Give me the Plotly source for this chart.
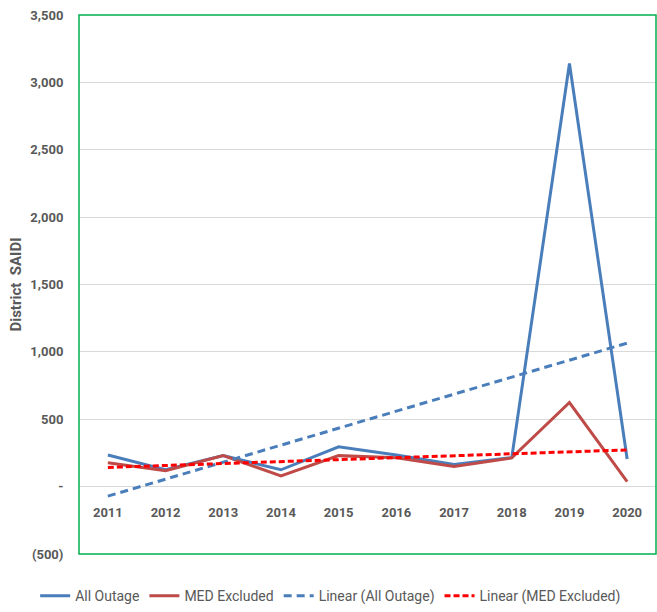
import numpy as np
import plotly.graph_objects as go

years = [2011, 2012, 2013, 2014, 2015, 2016, 2017, 2018, 2019, 2020]
all_outage = [235, 125, 230, 125, 295, 235, 165, 215, 3140, 205]
med_excluded = [178, 118, 230, 80, 230, 215, 150, 213, 624, 37]
y_tickvals = [-500, 0, 500, 1000, 1500, 2000, 2500, 3000, 3500]
y_ticktext = ["(500)", "-", "500", "1,000", "1,500", "2,000", "2,500", "3,000", "3,500"]

FONT = "Roboto, sans-serif"

def trend(y):
    x = np.arange(1, len(y) + 1)
    m, b = np.polyfit(x, y, 1)
    return list(m * x + b)

fig = go.Figure()
fig.add_trace(go.Scatter(x=years, y=all_outage, mode="lines", name="All Outage",
                         line=dict(color="#4A7EBB", width=3)))
fig.add_trace(go.Scatter(x=years, y=med_excluded, mode="lines", name="MED Excluded",
                         line=dict(color="#BE4B48", width=3)))
fig.add_trace(go.Scatter(x=years, y=trend(all_outage), mode="lines", name="Linear (All Outage)",
                         line=dict(color="#4A7EBB", width=3, dash="8px,5px")))
fig.add_trace(go.Scatter(x=years, y=trend(med_excluded), mode="lines", name="Linear (MED Excluded)",
                         line=dict(color="#FF0000", width=3, dash="6px,3px")))

fig.update_layout(
    width=657, height=612,
    margin=dict(l=79, r=1, t=15, b=58, autoexpand=False),
    paper_bgcolor="white", plot_bgcolor="white",
    font=dict(family=FONT, color="#595959"),
    showlegend=True,
    legend=dict(orientation="h",
                x=-0.076, xanchor="left", y=-0.078, yanchor="middle",
                font=dict(size=14, color="#595959"),
                tracegroupgap=0),
    xaxis=dict(range=[2010.5, 2020.5], tickvals=years, ticktext=[str(y) for y in years],
               anchor="free", position=0.125, showgrid=False, zeroline=False, showline=False,
               automargin=False,
               ticks="outside", ticklen=14, tickcolor="rgba(0,0,0,0)",
               tickfont=dict(size=13, weight="bold", color="#595959")),
    yaxis=dict(range=[-500, 3500], tickvals=y_tickvals, ticktext=y_ticktext,
               showgrid=True, gridcolor="#D9D9D9", gridwidth=1, zeroline=False, showline=False,
               automargin=False,
               ticks="outside", ticklen=12, tickcolor="rgba(0,0,0,0)",
               tickfont=dict(size=13, weight="bold", color="#595959"),
               title=dict(text="District  SAIDI", standoff=5,
                          font=dict(size=15, weight="bold", color="#595959"))),
    shapes=[dict(type="rect", xref="paper", yref="paper", x0=0, x1=1, y0=0, y1=1,
                 line=dict(color="#00B050", width=1.5), fillcolor="rgba(0,0,0,0)", layer="above")],
)

fig.write_html("out.html", config={"displayModeBar": False},
               post_script="document.body.style.margin='0';document.body.style.overflow='hidden';")
